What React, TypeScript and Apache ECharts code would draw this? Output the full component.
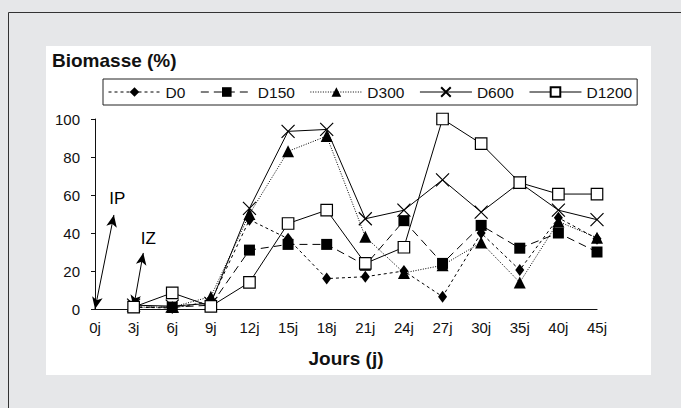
import React, { useEffect, useRef } from "react";
import * as echarts from "echarts";

const days = ["0j", "3j", "6j", "9j", "12j", "15j", "18j", "21j", "24j", "27j", "30j", "35j", "40j", "45j"];
const seriesNames = ["D0", "D150", "D300", "D600", "D1200"];
// values from 3j onward (index 1..13); 0j has no data
const d0 = [null, 1, 0.5, 4, 47, 37, 16, 17, 20, 6.5, 40, 20.5, 48, 37];
const d150 = [null, 1, 1, 2, 31, 34, 34, 23, 46.5, 24, 44, 32, 40, 30];
const d300 = [null, 1, 1, 6.5, 50, 83, 91, 38, 19, 23, 35, 14, 46, 37.5];
const d600 = [null, 2, 1.5, 3, 53, 93.5, 94.5, 47.5, 52, 68, 51, 66.5, 52, 47];
const d1200 = [null, 1, 8.5, 1.4, 14, 45, 52, 24, 32.5, 100, 87, 66.5, 60.5, 60.5];
const yTicks = [0, 20, 40, 60, 80, 100];
const annotations = [
  { name: "IP", from: [0, 0], to: [0.49, 49.5], label: [0.58, 58] },
  { name: "IZ", from: [1, 1], to: [1.25, 29.5], label: [1.38, 37] },
];

const FONT = "'Liberation Sans', Arial, Helvetica, sans-serif";

function toPairs(arr: (number | null)[]) {
  return arr.map((v, i) => [i, v]).filter((p) => p[1] !== null);
}

export default function App() {
  const ref = useRef<HTMLDivElement>(null);
  useEffect(() => {
    if (!ref.current) return;
    const chart = echarts.init(ref.current, null, { renderer: "svg" });
    const styles = [
      { data: d0, symbol: "diamond", size: [9, 12], dash: [3, 3], fill: "#000" },
      { data: d150, symbol: "rect", size: 11, dash: [8, 5], fill: "#000" },
      { data: d300, symbol: "triangle", size: 12, dash: [1, 1.5], fill: "#000" },
      { data: d600, symbol: "path://M0,0L12,12M12,0L0,12", size: 13, dash: "solid", fill: "#000" },
      { data: d1200, symbol: "rect", size: 11.5, dash: "solid", fill: "#fff" },
    ];
    const series: any[] = styles.map((s, i) => ({
      type: "line",
      name: seriesNames[i],
      data: toPairs(s.data),
      symbol: s.symbol,
      symbolSize: s.size,
      showAllSymbol: true,
      lineStyle: { color: "#000", width: 1, type: s.dash },
      itemStyle: { color: s.fill, borderColor: "#000", borderWidth: s.fill === "#fff" || i === 3 ? 1.2 : 0 },
      z: 2 + i,
    }));
    series[0].markLine = {
      silent: true,
      symbol: ["arrow", "arrow"],
      symbolSize: [8, 12],
      lineStyle: { color: "#000", width: 1, type: "solid" },
      label: { show: false },
      data: annotations.map((a) => [{ coord: a.from }, { coord: a.to }]),
    };
    series[0].markPoint = {
      silent: true,
      symbol: "circle",
      symbolSize: 1,
      itemStyle: { color: "transparent" },
      label: { show: true, position: "inside", formatter: "{b}", color: "#000", fontSize: 17, fontFamily: FONT },
      data: annotations.map((a) => ({ name: a.name, coord: a.label })),
    };
    chart.setOption({
      animation: false,
      textStyle: { fontFamily: FONT },
      graphic: [
        { type: "rect", shape: { x: 0, y: 0, width: 681, height: 408 }, style: { fill: "#e6e7e9" }, z: -10 },
        { type: "rect", shape: { x: 8.5, y: 12.5, width: 700, height: 420 }, style: { fill: "none", stroke: "#333", lineWidth: 1 }, z: -9 },
        { type: "rect", shape: { x: 46, y: 46, width: 605, height: 329 }, style: { fill: "#fff" }, z: -8 },
      ],
      title: {
        text: "Biomasse (%)",
        left: 47,
        top: 46,
        textStyle: { fontSize: 19, fontWeight: "bold", color: "#111", fontFamily: FONT },
      },
      legend: {
        left: 103,
        top: 79,
        orient: "horizontal",
        padding: [5, 5],
        itemWidth: 52,
        itemHeight: 12,
        itemGap: 15,
        borderColor: "#222",
        borderWidth: 1,
        lineStyle: { width: 1 },
        textStyle: { fontSize: 15.5, color: "#111", fontFamily: FONT },
        data: seriesNames,
      },
      grid: { left: 95, top: 119, width: 502, height: 190, containLabel: false },
      xAxis: {
        type: "value",
        min: 0,
        max: days.length - 1,
        interval: 1,
        axisLine: { show: true, lineStyle: { color: "#111", width: 1.2 } },
        axisTick: { show: false },
        splitLine: { show: false },
        axisLabel: { formatter: (v: number) => days[v] ?? "", fontSize: 15, color: "#111", margin: 11, fontFamily: FONT },
        name: "Jours (j)",
        nameLocation: "middle",
        nameGap: 40,
        nameTextStyle: { fontSize: 19, fontWeight: "bold", color: "#111", fontFamily: FONT },
      },
      yAxis: {
        type: "value",
        min: 0,
        max: 100,
        interval: yTicks[1] - yTicks[0],
        axisLine: { show: true, lineStyle: { color: "#111", width: 1 } },
        axisTick: { show: true, length: 4, lineStyle: { color: "#111" } },
        splitLine: { show: false },
        axisLabel: { fontSize: 15, color: "#111", margin: 15, fontFamily: FONT },
      },
      series,
    });
    return () => chart.dispose();
  }, []);
  return <div ref={ref} style={{ position: "absolute", left: 0, top: 0, width: 681, height: 408 }} />;
}
